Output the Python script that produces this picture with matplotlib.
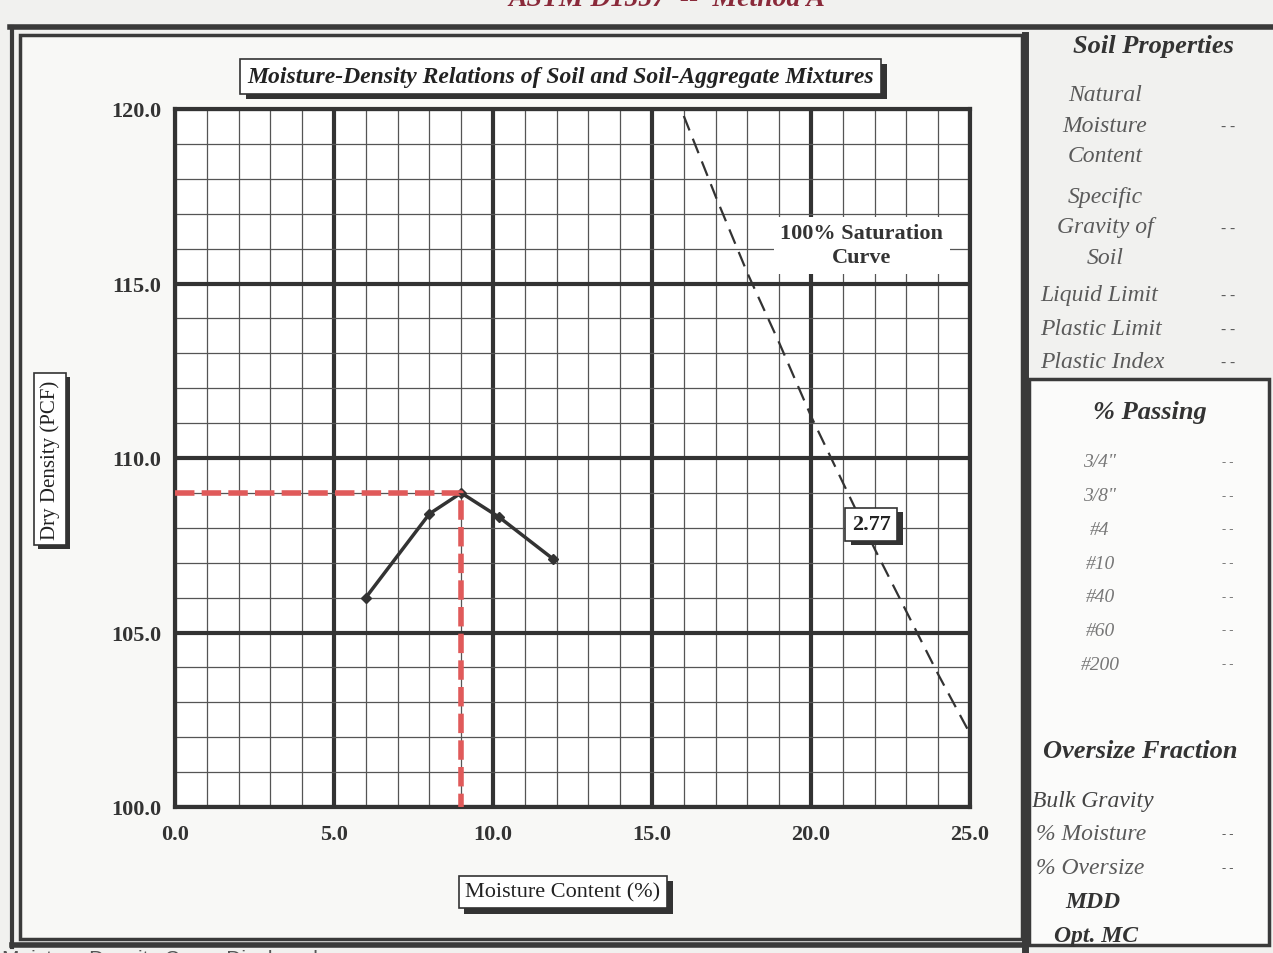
import matplotlib
matplotlib.use("Agg")
import matplotlib.pyplot as plt
from matplotlib.patches import Rectangle
from matplotlib.lines import Line2D
from matplotlib.ticker import MultipleLocator, FormatStrFormatter
import matplotlib.patheffects as pe

# ---------------- data ----------------
moisture = [6.0, 8.0, 9.0, 10.2, 11.9]
dry_density = [106.0, 108.4, 109.0, 108.3, 107.1]

opt_mc = 9.0
max_dd = 109.0

sat_moisture = [16.0, 17.0, 18.0, 19.0, 20.0, 21.0, 22.0, 23.0, 24.0, 25.0]
sat_density = [119.8, 117.5, 115.3, 113.3, 111.2, 109.3, 107.4, 105.6, 103.8, 102.1]
gs_label = "2.77"

x_ticks = [0.0, 5.0, 10.0, 15.0, 20.0, 25.0]
y_ticks = [100.0, 105.0, 110.0, 115.0, 120.0]

soil_props = ["Liquid Limit", "Plastic Limit", "Plastic Index"]
sieves = ['3/4"', '3/8"', "#4", "#10", "#40", "#60", "#200"]

SERIF = ["Liberation Serif", "DejaVu Serif"]
W, H = 1273, 954
fig = plt.figure(figsize=(W / 100, H / 100), dpi=100)
fig.patch.set_facecolor("#f1f1ef")

# background / frame axes in pixel coordinates
bg = fig.add_axes([0, 0, 1, 1], zorder=0)
bg.set_xlim(0, W)
bg.set_ylim(H, 0)
bg.axis("off")

frame_col = "#3a3a3a"
bg.add_patch(Rectangle((20, 36), 1002, 904, facecolor="#f8f8f6", edgecolor=frame_col, lw=2.5))
bg.add_line(Line2D([10, W], [28, 28], color=frame_col, lw=4))
bg.add_line(Line2D([12, 12], [28, 948], color=frame_col, lw=3))
bg.add_line(Line2D([12, 1026], [946, 946], color=frame_col, lw=4))
bg.add_line(Line2D([1025, 1025], [36, H], color=frame_col, lw=5))
bg.add_patch(Rectangle((1029, 380), 240, 566, facecolor="#fbfbfa", edgecolor=frame_col, lw=2.5))

# top / bottom cut-off texts (cut in the reference as well)
bg.text(667, 0, "ASTM D1557  --  Method A", ha="center", va="center", fontsize=20,
        fontweight="bold", style="italic", color="#8a2a3a", family=SERIF)
bg.text(2, 960, "Moisture-Density Curve Displayed", ha="left", va="center", fontsize=15,
        color="#555555", family=["Liberation Sans", "DejaVu Sans"])

# right panel text
gray = "#5a5a5a"
DASH = "- -"
bg.text(1153, 47, "Soil Properties", ha="center", va="center", fontsize=19,
        fontweight="bold", style="italic", color="#333333", family=SERIF)
bg.text(1105, 126, "Natural\nMoisture\nContent", ha="center", va="center", fontsize=17,
        style="italic", color=gray, family=SERIF, linespacing=1.6)
bg.text(1228, 126, DASH, ha="center", va="center", fontsize=11, color=gray, family=SERIF)
bg.text(1105, 228, "Specific\nGravity of\nSoil", ha="center", va="center", fontsize=17,
        style="italic", color=gray, family=SERIF, linespacing=1.6)
bg.text(1228, 228, DASH, ha="center", va="center", fontsize=11, color=gray, family=SERIF)
for i, lab in enumerate(soil_props):
    yy = 296 + i * 33.5
    bg.text(1040, yy, lab, ha="left", va="center", fontsize=17, style="italic",
            color=gray, family=SERIF)
    bg.text(1228, yy, DASH, ha="center", va="center", fontsize=11, color=gray, family=SERIF)

bg.text(1150, 413, "% Passing", ha="center", va="center", fontsize=19,
        fontweight="bold", style="italic", color="#333333", family=SERIF)
for i, lab in enumerate(sieves):
    yy = 463 + i * 33.7
    bg.text(1100, yy, lab, ha="center", va="center", fontsize=14, style="italic",
            color="#777777", family=SERIF)
    bg.text(1228, yy, DASH, ha="center", va="center", fontsize=9, color="#777777", family=SERIF)

bg.text(1140, 752, "Oversize Fraction", ha="center", va="center", fontsize=19,
        fontweight="bold", style="italic", color="#333333", family=SERIF)
bg.text(1032, 802, "Bulk Gravity", ha="left", va="center", fontsize=17, style="italic",
        color="#444444", family=SERIF)
bg.text(1036, 835, "% Moisture", ha="left", va="center", fontsize=17, style="italic",
        color=gray, family=SERIF)
bg.text(1228, 835, DASH, ha="center", va="center", fontsize=9, color=gray, family=SERIF)
bg.text(1036, 869, "% Oversize", ha="left", va="center", fontsize=17, style="italic",
        color=gray, family=SERIF)
bg.text(1228, 869, DASH, ha="center", va="center", fontsize=9, color=gray, family=SERIF)
bg.text(1093, 903, "MDD", ha="center", va="center", fontsize=17, fontweight="bold",
        style="italic", color="#333333", family=SERIF)
bg.text(1096, 937, "Opt. MC", ha="center", va="center", fontsize=17, fontweight="bold",
        style="italic", color="#333333", family=SERIF)

# ---------------- chart ----------------
left, right, top, bottom = 175, 970, 110, 808
ax = fig.add_axes([left / W, 1 - bottom / H, (right - left) / W, (bottom - top) / H], zorder=2)
ax.set_facecolor("white")
ax.set_xlim(x_ticks[0], x_ticks[-1])
ax.set_ylim(y_ticks[0], y_ticks[-1])
ax.xaxis.set_major_locator(MultipleLocator(5))
ax.xaxis.set_minor_locator(MultipleLocator(1))
ax.yaxis.set_major_locator(MultipleLocator(5))
ax.yaxis.set_minor_locator(MultipleLocator(1))
ax.xaxis.set_major_formatter(FormatStrFormatter("%.1f"))
ax.yaxis.set_major_formatter(FormatStrFormatter("%.1f"))
ax.grid(which="minor", color="#555555", lw=0.9)
ax.grid(which="major", color="#333333", lw=3)
ax.set_axisbelow(True)
for s in ax.spines.values():
    s.set_linewidth(3)
    s.set_color("#333333")
ax.tick_params(which="both", length=0)
ax.tick_params(axis="x", pad=12)
ax.tick_params(axis="y", pad=10)
for lab in ax.get_xticklabels() + ax.get_yticklabels():
    lab.set_fontfamily(SERIF)
    lab.set_fontweight("bold")
    lab.set_fontsize(16)
    lab.set_color("#333333")

# saturation curve
ax.plot(sat_moisture, sat_density, color="#333333", lw=1.6, dashes=(7, 4), zorder=3)

# compaction curve
ax.plot(moisture, dry_density, color="#333333", lw=2.5, marker="D", markersize=5, zorder=4)

# optimum lines
ax.plot([x_ticks[0], opt_mc, opt_mc], [max_dd, max_dd, y_ticks[0]], color="#e05a5a",
        lw=4, dashes=(3.5, 1.3), zorder=5, solid_capstyle="butt")


def shadow_text(axis, x, y, s, transform, fontsize, dx=4, dy=-4, **kw):
    t = axis.text(x, y, s, transform=transform, fontsize=fontsize, color="#222222",
                  bbox=dict(boxstyle="square,pad=0.3", fc="white", ec="#333333", lw=1.2),
                  zorder=7, **kw)
    t.get_bbox_patch().set_path_effects([
        pe.SimplePatchShadow(offset=(dx, dy), shadow_rgbFace="#333333", alpha=1.0),
        pe.Normal()])
    return t


shadow_text(ax, 0.485, 1.047, "Moisture-Density Relations of Soil and Soil-Aggregate Mixtures",
            ax.transAxes, 17, ha="center", va="center", family=SERIF, fontweight="bold",
            style="italic")
shadow_text(ax, 21.9, 108.1, gs_label, ax.transData, 16, dx=4, dy=-3,
            ha="center", va="center", family=SERIF, fontweight="bold")
ax.text(21.6, 116.1, "100% Saturation\nCurve", ha="center", va="center", fontsize=16,
        fontweight="bold", family=SERIF, color="#333333", linespacing=1.25, zorder=6,
        bbox=dict(boxstyle="square,pad=0.3", fc="white", ec="none"))

# axis labels as boxed texts
shadow_text(bg, 563, 893, "Moisture Content (%)", bg.transData, 16, dx=4, dy=-4,
            ha="center", va="center", family=SERIF)
shadow_text(bg, 50, 460, "Dry Density (PCF)", bg.transData, 15, dx=3, dy=-3,
            ha="center", va="center", family=SERIF, rotation=90)

fig.savefig("out.png", dpi=100, facecolor=fig.get_facecolor())
